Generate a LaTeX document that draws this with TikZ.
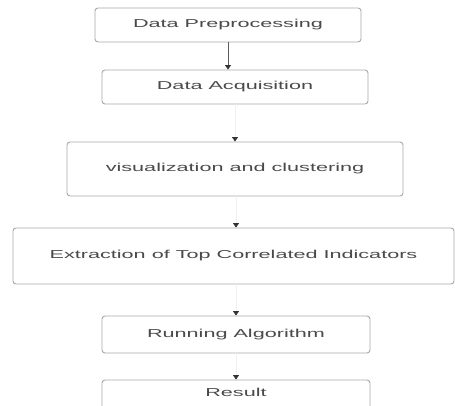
\documentclass[tikz,border=0pt]{standalone}
\usepackage{fontspec}
\setmainfont{Liberation Sans}
\usetikzlibrary{arrows.meta}
\definecolor{boxline}{HTML}{A8A8A8}
\definecolor{txt}{HTML}{4A4A4A}
\definecolor{faint}{HTML}{F0F0F0}
\newcommand{\stretchtxt}[1]{\scalebox{1.88}[1]{#1}}
\begin{document}
\begin{tikzpicture}[x=1pt,y=-1pt,
  stepbox/.style={draw=boxline, line width=0.9pt, rounded corners=3pt, fill=white,
    text=txt, font=\fontsize{11.5}{12}\selectfont, inner sep=0pt, anchor=center},
  flow/.style={draw=faint, line width=0.8pt, -{Triangle[width=6pt,length=4.5pt,color=black!80]}},
  flowdark/.style={draw=black!65, line width=0.8pt, -{Triangle[width=6pt,length=4.5pt,color=black!80]}}]
\useasboundingbox (0,0) rectangle (455,406);
\clip (0,0) rectangle (455,406);
\node[stepbox, minimum width=266pt, minimum height=34pt] (pre) at (228,25) {\stretchtxt{Data Preprocessing}};
\node[stepbox, minimum width=266pt, minimum height=34pt] (acq) at (235,87) {\stretchtxt{Data Acquisition}};
\node[stepbox, minimum width=336pt, minimum height=54pt] (vis) at (235,169) {\stretchtxt{visualization and clustering}};
\node[stepbox, minimum width=441pt, minimum height=56pt] (ext) at (233.5,256) {\stretchtxt{Extraction of Top Correlated Indicators}};
\node[stepbox, minimum width=268pt, minimum height=37pt] (run) at (236,334.5) {\stretchtxt{Running Algorithm}};
\node[stepbox, minimum width=268pt, minimum height=40pt] (res) at (236,400) {};
\node[text=txt, font=\fontsize{11.5}{12}\selectfont, inner sep=0pt] (restext) at (236,392) {\stretchtxt{Result}};
\draw[flowdark] (pre.south -| 228,0) -- (acq.north -| 228,0);
\draw[flow] (acq.south -| 235,0) -- (vis.north -| 235,0);
\draw[flow] (vis.south -| 236,0) -- (ext.north -| 236,0);
\draw[flow] (ext.south -| 236,0) -- (run.north -| 236,0);
\draw[flow] (run.south -| 236,0) -- (res.north -| 236,0);
\end{tikzpicture}
\end{document}
